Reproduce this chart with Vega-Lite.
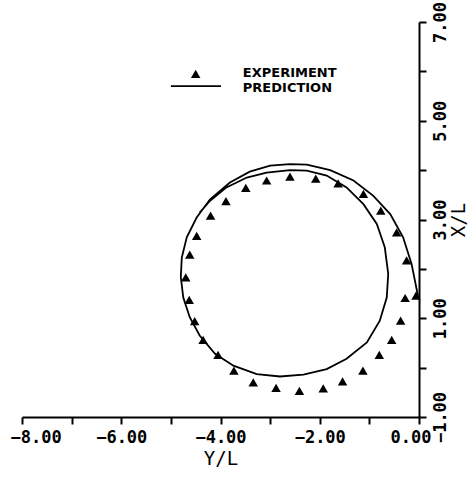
{
  "$schema": "https://vega.github.io/schema/vega-lite/v6.json",
  "autosize": {"type": "none"},
  "padding": {"left": 22, "top": 22, "right": 53, "bottom": 60},
  "width": 397,
  "height": 395,
  "background": "white",
  "config": {
    "view": {"stroke": null},
    "axis": {
      "domainColor": "black", "domainWidth": 2, "tickColor": "black", "tickWidth": 2, "tickSize": 7,
      "grid": false, "labelColor": "black", "titleColor": "black",
      "labelFont": "DejaVu Sans Mono", "labelFontWeight": "bold", "labelFontSize": 17,
      "titleFont": "DejaVu Sans Mono", "titleFontWeight": "normal", "titleFontSize": 19
    }
  },
  "datasets": {
    "exp": [
      {"Y": -2.60, "X": 3.87}, {"Y": -2.08, "X": 3.83}, {"Y": -1.63, "X": 3.73}, {"Y": -1.12, "X": 3.52},
      {"Y": -0.77, "X": 3.18}, {"Y": -0.45, "X": 2.74}, {"Y": -0.25, "X": 2.17}, {"Y": -0.06, "X": 1.46},
      {"Y": -0.28, "X": 1.41}, {"Y": -0.37, "X": 0.95}, {"Y": -0.55, "X": 0.56}, {"Y": -0.80, "X": 0.26},
      {"Y": -1.13, "X": -0.06}, {"Y": -1.54, "X": -0.28}, {"Y": -1.93, "X": -0.42}, {"Y": -2.41, "X": -0.47},
      {"Y": -2.88, "X": -0.41}, {"Y": -3.34, "X": -0.30}, {"Y": -3.73, "X": -0.06}, {"Y": -4.05, "X": 0.26},
      {"Y": -4.35, "X": 0.56}, {"Y": -4.52, "X": 0.94}, {"Y": -4.63, "X": 1.37}, {"Y": -4.70, "X": 1.83},
      {"Y": -4.62, "X": 2.29}, {"Y": -4.48, "X": 2.67}, {"Y": -4.20, "X": 3.08}, {"Y": -3.89, "X": 3.37},
      {"Y": -3.49, "X": 3.64}, {"Y": -3.07, "X": 3.79}
    ],
    "pred": [
      {"i": 0, "Y": -0.02, "X": 1.45}, {"i": 1, "Y": -0.15, "X": 2.10}, {"i": 2, "Y": -0.32, "X": 2.64},
      {"i": 3, "Y": -0.58, "X": 3.11}, {"i": 4, "Y": -0.92, "X": 3.48}, {"i": 5, "Y": -1.32, "X": 3.79},
      {"i": 6, "Y": -1.79, "X": 4.00}, {"i": 7, "Y": -2.26, "X": 4.11}, {"i": 8, "Y": -2.60, "X": 4.12},
      {"i": 9, "Y": -3.00, "X": 4.09}, {"i": 10, "Y": -3.41, "X": 3.97}, {"i": 11, "Y": -3.81, "X": 3.75},
      {"i": 12, "Y": -4.21, "X": 3.41}, {"i": 13, "Y": -4.48, "X": 3.04}, {"i": 14, "Y": -4.68, "X": 2.64},
      {"i": 15, "Y": -4.78, "X": 2.23}, {"i": 16, "Y": -4.80, "X": 1.83}, {"i": 17, "Y": -4.75, "X": 1.42},
      {"i": 18, "Y": -4.62, "X": 1.02}, {"i": 19, "Y": -4.42, "X": 0.65}, {"i": 20, "Y": -4.11, "X": 0.28},
      {"i": 21, "Y": -3.74, "X": 0.04}, {"i": 22, "Y": -3.27, "X": -0.13}, {"i": 23, "Y": -2.80, "X": -0.18},
      {"i": 24, "Y": -2.33, "X": -0.14}, {"i": 25, "Y": -1.86, "X": -0.03}, {"i": 26, "Y": -1.46, "X": 0.18},
      {"i": 27, "Y": -1.05, "X": 0.51}, {"i": 28, "Y": -0.79, "X": 0.95}, {"i": 29, "Y": -0.65, "X": 1.42},
      {"i": 30, "Y": -0.62, "X": 1.90}, {"i": 31, "Y": -0.69, "X": 2.44}, {"i": 32, "Y": -0.85, "X": 2.91},
      {"i": 33, "Y": -1.12, "X": 3.31}, {"i": 34, "Y": -1.46, "X": 3.65}, {"i": 35, "Y": -1.86, "X": 3.89},
      {"i": 36, "Y": -2.26, "X": 3.99}, {"i": 37, "Y": -2.60, "X": 4.00}, {"i": 38, "Y": -3.07, "X": 3.95},
      {"i": 39, "Y": -3.47, "X": 3.85}, {"i": 40, "Y": -3.88, "X": 3.65}, {"i": 41, "Y": -4.21, "X": 3.38},
      {"i": 42, "Y": -4.42, "X": 3.14}
    ],
    "legtext": [
      {"Y": -3.55, "X": 5.96, "label": "EXPERIMENT"},
      {"Y": -3.55, "X": 5.67, "label": "PREDICTION"}
    ],
    "legsym": [{"Y": -4.50, "X": 5.95}],
    "legline": [{"Y": -5.00, "Y2": -3.99, "X": 5.70}]
  },
  "layer": [
    {
      "data": {"name": "pred"},
      "mark": {"type": "line", "color": "black", "strokeWidth": 1.8, "interpolate": "linear"},
      "encoding": {
        "x": {"field": "Y", "type": "quantitative", "scale": {"domain": [-8, 0], "nice": false, "zero": false},
          "axis": {"orient": "bottom", "title": "Y/L", "values": [-8, -7, -6, -5, -4, -3, -2, -1, 0],
            "labelExpr": "datum.value % 2 == 0 ? format(datum.value, '.2f') : ''",
            "labelPadding": 5, "titlePadding": 4, "labelFlush": true, "labelFlushOffset": 12, "labelOverlap": false}},
        "y": {"field": "X", "type": "quantitative", "scale": {"domain": [-1, 7], "nice": false, "zero": false},
          "axis": {"orient": "right", "title": "X/L", "values": [-1, 0, 1, 2, 3, 4, 5, 6, 7],
            "labelExpr": "abs(datum.value % 2) == 1 ? format(datum.value, '.2f') : ''",
            "labelAngle": 270, "labelPadding": 6,
            "titleAngle": 270, "titleBaseline": "top", "titlePadding": 1,
            "labelFlush": true, "labelFlushOffset": 14, "labelOverlap": false}},
        "order": {"field": "i", "type": "quantitative"}
      }
    },
    {
      "data": {"name": "exp"},
      "mark": {"type": "point", "shape": "triangle-up", "filled": true, "color": "black", "opacity": 1, "size": 90},
      "encoding": {
        "x": {"field": "Y", "type": "quantitative"},
        "y": {"field": "X", "type": "quantitative"}
      }
    },
    {
      "data": {"name": "legsym"},
      "mark": {"type": "point", "shape": "triangle-up", "filled": true, "color": "black", "opacity": 1, "size": 90},
      "encoding": {
        "x": {"field": "Y", "type": "quantitative"},
        "y": {"field": "X", "type": "quantitative"}
      }
    },
    {
      "data": {"name": "legline"},
      "mark": {"type": "rule", "color": "black", "strokeWidth": 1.8},
      "encoding": {
        "x": {"field": "Y", "type": "quantitative"},
        "x2": {"field": "Y2"},
        "y": {"field": "X", "type": "quantitative"}
      }
    },
    {
      "data": {"name": "legtext"},
      "mark": {"type": "text", "align": "left", "baseline": "middle", "font": "DejaVu Sans", "fontWeight": "bold", "fontSize": 13, "color": "black"},
      "encoding": {
        "x": {"field": "Y", "type": "quantitative"},
        "y": {"field": "X", "type": "quantitative"},
        "text": {"field": "label", "type": "nominal"}
      }
    }
  ]
}
